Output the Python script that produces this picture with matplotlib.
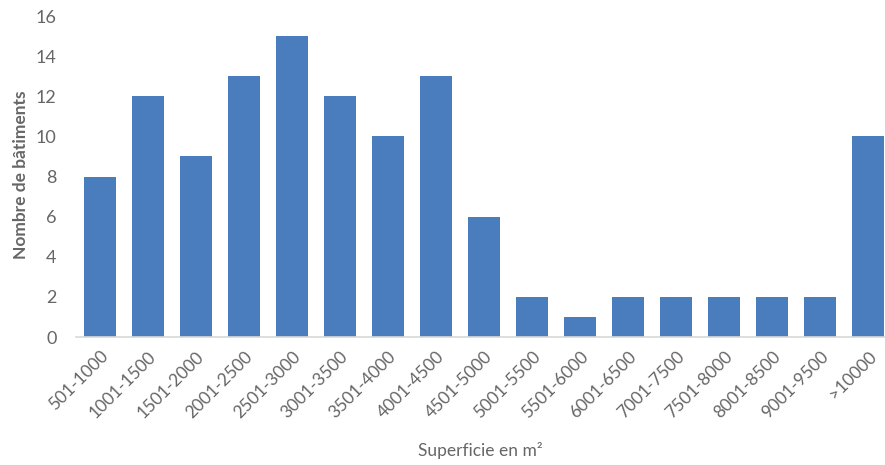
import numpy as np
import matplotlib
matplotlib.use('Agg')
import matplotlib.pyplot as plt

categories = ['501-1000', '1001-1500', '1501-2000', '2001-2500', '2501-3000',
              '3001-3500', '3501-4000', '4001-4500', '4501-5000', '5001-5500',
              '5501-6000', '6001-6500', '7001-7500', '7501-8000', '8001-8500',
              '9001-9500', '>10000']
counts = [8, 12, 9, 13, 15, 12, 10, 13, 6, 2, 1, 2, 2, 2, 2, 2, 10]
yticks = [0, 2, 4, 6, 8, 10, 12, 14, 16]

BLUE, TXT, AX = '#4A7DBE', '#666666', '#D9D9D9'
plt.rcParams.update({'font.family': ['Lato', 'DejaVu Sans']})

fig = plt.figure(figsize=(8.85, 4.65), dpi=100)
ax = fig.add_axes([76 / 885, 1 - 337 / 465, 816 / 885, 321 / 465])

x = np.arange(len(categories))
ax.bar(x, counts, width=0.66, color=BLUE, zorder=2)
ax.set_xlim(-0.5, len(categories) - 0.5)
ax.set_ylim(0, 16)
ax.set_yticks(yticks)
ax.set_xticks(x)
ax.set_xticklabels(categories, rotation=45, ha='right', rotation_mode='anchor',
                   fontsize=12.5, color=TXT)
ax.tick_params(axis='y', length=0, labelsize=13, labelcolor=TXT, pad=14)
ax.tick_params(axis='x', length=0, pad=8)
for s in ['top', 'right', 'left']:
    ax.spines[s].set_visible(False)
ax.spines['bottom'].set_color(AX)
ax.spines['bottom'].set_linewidth(1.2)

fig.text(21 / 885, 1 - 175 / 465, 'Nombre de bâtiments', rotation=90,
         ha='center', va='center', fontsize=12.5, color=TXT, fontweight='bold')
fig.text(480 / 885, 1 - 450 / 465, 'Superficie en m²', ha='center',
         va='center', fontsize=12.5, color=TXT)

fig.savefig('out.png', dpi=100)
